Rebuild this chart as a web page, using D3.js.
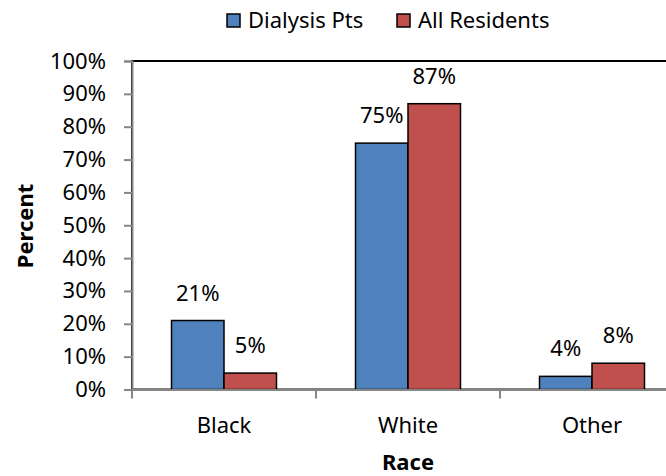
<!DOCTYPE html>
<html>
<head>
<meta charset="utf-8">
<script src="https://cdn.jsdelivr.net/npm/d3@7"></script>
<style>
  body { margin: 0; background: #fff; }
  text { font-family: "Noto Sans", sans-serif; font-size: 22px; fill: #000; }
</style>
</head>
<body>
<div id="chart"></div>
<script>
const categories = ["Black", "White", "Other"];
const seriesNames = ["Dialysis Pts", "All Residents"];
const dialysis = [21, 75, 4];
const allResidents = [5, 87, 8];
const yTicks = [0, 10, 20, 30, 40, 50, 60, 70, 80, 90, 100];
const colors = ["#4F81BD", "#C0504D"];

const width = 666, height = 476;
const plotLeft = 132, plotRight = 684, plotTop = 61, plotBottom = 389.5;

const rows = categories.map((c, i) => ({cat: c, vals: [dialysis[i], allResidents[i]]}));

const svg = d3.select("#chart").append("svg")
  .attr("width", width)
  .attr("height", height);

const x = d3.scaleBand().domain(categories).range([plotLeft, plotRight]);
const x1 = d3.scaleBand().domain(seriesNames).range([39.5, 144.5]);
const y = d3.scaleLinear().domain([0, 100]).range([plotBottom, plotTop]);

// plot area border (only the top shows, rest is covered or cropped)
svg.append("rect")
  .attr("x", plotLeft).attr("y", plotTop)
  .attr("width", plotRight - plotLeft).attr("height", plotBottom - plotTop)
  .attr("fill", "none").attr("stroke", "#000").attr("stroke-width", 2);

// bars
const g = svg.selectAll(".grp")
  .data(rows)
  .join("g")
  .attr("transform", d => `translate(${x(d.cat)},0)`);

g.selectAll("rect")
  .data(d => d.vals.map((v, i) => ({v, i})))
  .join("rect")
  .attr("x", d => x1(seriesNames[d.i]))
  .attr("y", d => y(d.v))
  .attr("width", x1.bandwidth())
  .attr("height", d => y(0) - y(d.v))
  .attr("fill", d => colors[d.i])
  .attr("stroke", "#000")
  .attr("stroke-width", 1.5);

g.selectAll("text.lbl")
  .data(d => d.vals.map((v, i) => ({v, i})))
  .join("text")
  .classed("lbl", true)
  .attr("x", d => x1(seriesNames[d.i]) + x1.bandwidth() / 2)
  .attr("y", d => y(d.v) - 20)
  .attr("text-anchor", "middle")
  .text(d => d.v + "%");

// y axis
const yAxis = svg.append("g")
  .attr("transform", `translate(${plotLeft},0)`)
  .call(d3.axisLeft(y).tickValues(yTicks).tickFormat(d => d + "%").tickSize(8).tickPadding(18));
yAxis.select(".domain").attr("stroke", "#868686").attr("stroke-width", 2);
yAxis.selectAll(".tick line").attr("stroke", "#868686").attr("stroke-width", 2);
yAxis.selectAll(".tick text").attr("font-size", 22).attr("font-family", "Noto Sans").attr("fill", "#000");

// x axis
const xAxis = svg.append("g")
  .attr("transform", `translate(0,${plotBottom})`)
  .call(d3.axisBottom(x).tickSize(0).tickPadding(28).tickSizeOuter(0));
xAxis.select(".domain").attr("stroke", "#868686").attr("stroke-width", 2);
xAxis.selectAll(".tick text").attr("font-size", 22).attr("font-family", "Noto Sans").attr("fill", "#000");
xAxis.selectAll(".sep")
  .data(categories)
  .join("line")
  .attr("x1", d => x(d)).attr("x2", d => x(d))
  .attr("y1", 0).attr("y2", 9)
  .attr("stroke", "#868686").attr("stroke-width", 2);

// axis titles
svg.append("text")
  .attr("transform", `translate(33,226) rotate(-90)`)
  .attr("text-anchor", "middle")
  .attr("font-weight", "bold")
  .text("Percent");

svg.append("text")
  .attr("x", (plotLeft + plotRight) / 2)
  .attr("y", 470)
  .attr("text-anchor", "middle")
  .attr("font-weight", "bold")
  .text("Race");

// legend
const legendX = [227, 397];
const leg = svg.selectAll(".leg")
  .data(seriesNames)
  .join("g")
  .attr("transform", (d, i) => `translate(${legendX[i]},14)`);
leg.append("rect")
  .attr("width", 13).attr("height", 13)
  .attr("fill", (d, i) => colors[i])
  .attr("stroke", "#000").attr("stroke-width", 1.5);
leg.append("text")
  .attr("x", 21).attr("y", 13.5)
  .text(d => d);
</script>
</body>
</html>
